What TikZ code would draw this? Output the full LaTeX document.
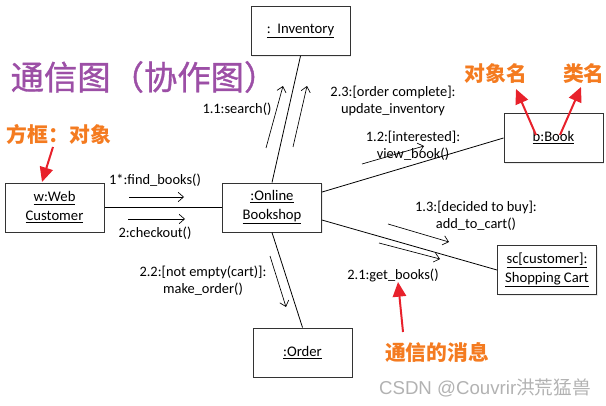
\documentclass[tikz,border=0pt]{standalone}
\usepackage{fontspec}
\setmainfont{Carlito}
\newfontfamily\cjk{Noto Sans CJK SC}
\newfontfamily\cjktitle[FakeBold=1]{Noto Sans CJK SC}
\newfontfamily\wmfont{Liberation Sans}
\usetikzlibrary{arrows.meta,shadows}
\definecolor{titlepurple}{HTML}{9C4FA6}
\definecolor{noteorange}{HTML}{F47B20}
\definecolor{notered}{HTML}{E8212B}
\tikzstyle{obj} = [draw=black!80, fill=white, line width=0.75pt, minimum width=74.25pt, minimum height=36.75pt, inner sep=1pt, align=center, font=\fontsize{11}{14}\selectfont, drop shadow={opacity=0.15, shadow xshift=1pt, shadow yshift=-1pt}]
\tikzstyle{msg} = [align=center, inner sep=1pt, font=\fontsize{10.8}{12.5}\selectfont]
\tikzstyle{note} = [text=noteorange, inner sep=0pt, font=\cjk\bfseries\fontsize{15.6}{18}\selectfont]
\tikzstyle{flow} = [-{Straight Barb[length=4pt,width=7pt]}, line width=0.5pt]
\tikzstyle{pointer} = [-{Triangle[length=11pt,width=10pt]}, draw=notered, line width=1.5pt]

\begin{document}
\begin{tikzpicture}[x=0.75pt,y=-0.75pt]
\useasboundingbox (0,0) rectangle (606,406);

\node[obj] (inv) at (300.5,31) {\underline{:\ \ Inventory}};
\node[obj] (web) at (54.5,207.5) {\underline{w:Web}\\\underline{Customer}};
\node[obj] (shop) at (272,207.5) {\underline{:Online}\\\underline{Bookshop}};
\node[obj] (order) at (302.5,352.5) {\underline{:Order}};
\node[obj] (book) at (553.5,138) {\underline{b:Book}};
\node[obj] (cart) at (547,270) {\underline{sc[customer]:}\\\underline{Shopping Cart}};

\path[line width=0.6pt]
(web.east) edge (shop.west)
(shop.north) edge (inv.south)
(shop.south) edge (order.north)
([yshift=11.6pt]shop.east) edge (book.west)
([yshift=-9.4pt]shop.east) edge (cart.west);

\coordinate (find1) at (129,197);   \coordinate (find2) at (184,197);
\coordinate (check1) at (128,219);  \coordinate (check2) at (185,219);
\coordinate (search1) at (266,148); \coordinate (search2) at (283,86);
\coordinate (update1) at (293,147); \coordinate (update2) at (307,86);
\coordinate (view1) at (362,164);   \coordinate (view2) at (424,146);
\coordinate (add1) at (388,224);    \coordinate (add2) at (449,242);
\coordinate (get1) at (379,243);    \coordinate (get2) at (440,259);
\coordinate (make1) at (270,256);   \coordinate (make2) at (286,307);

\path[flow]
(find1) edge (find2)
(check1) edge (check2)
(search1) edge (search2)
(update1) edge (update2)
(view1) edge (view2)
(add1) edge (add2)
(get1) edge (get2)
(make1) edge (make2);

\node[msg] (findlbl) at (155,180) {1*:find\_books()};
\node[msg] (checklbl) at (155,233) {2:checkout()};
\node[msg] (searchlbl) at (237,109) {1.1:search()};
\node[msg] (updatelbl) at (393,101) {2.3:[order complete]:\\update\_inventory};
\node[msg] (viewlbl) at (413,146) {1.2:[interested]:\\view\_book()};
\node[msg] (addlbl) at (476,216) {1.3:[decided to buy]:\\add\_to\_cart()};
\node[msg] (getlbl) at (393,275) {2.1:get\_books()};
\node[msg] (makelbl) at (203,281) {2.2:[not empty(cart)]:\\make\_order()};

\node[text=titlepurple, inner sep=0pt, font=\cjktitle\fontsize{25}{28}\selectfont] (title) at (144,77) {通信图（协作图）};
\node[note] (boxnote) at (59,134) {方框：对象};
\node[note] (objnote) at (496,74) {对象名};
\node[note, anchor=east] (clsnote) at (605,74) {类名};
\node[note] (msgnote) at (437,353) {通信的消息};
\node[text=black!30, inner sep=0pt, font=\wmfont\fontsize{14}{16}\selectfont] (mark) at (485,388) {CSDN @Couvrir{\cjk 洪荒猛兽}};

\coordinate (boxtip) at (42,182);
\coordinate (objtip) at (516,89);
\coordinate (clstip) at (581,87);
\coordinate (msgtip) at (398,282);
\coordinate (objfoot) at (536,135);
\coordinate (clsfoot) at (560,135);

\draw[pointer] (53,147) -- (boxtip);
\draw[pointer] (objfoot) -- (objtip);
\draw[pointer] (clsfoot) -- (clstip);
\draw[pointer] (403,332) -- (msgtip);
\end{tikzpicture}
\end{document}
